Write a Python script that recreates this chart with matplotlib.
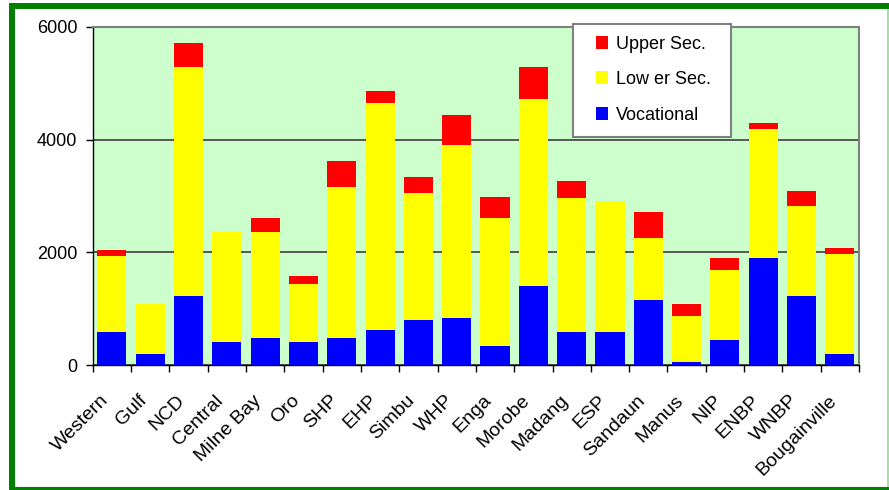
import matplotlib
matplotlib.use("Agg")
import matplotlib.pyplot as plt
from matplotlib.lines import Line2D
from matplotlib.patches import Rectangle
import numpy as np

plt.rcParams['font.family'] = ['Liberation Sans', 'DejaVu Sans']

provinces = ["Western", "Gulf", "NCD", "Central", "Milne Bay", "Oro", "SHP", "EHP",
             "Simbu", "WHP", "Enga", "Morobe", "Madang", "ESP", "Sandaun", "Manus",
             "NIP", "ENBP", "WNBP", "Bougainville"]
vocational = [584, 195, 1227, 407, 478, 407, 478, 619, 796, 832,
              336, 1398, 584, 584, 1150, 53, 442, 1894, 1221, 195]
lower_sec = [1345, 885, 4065, 1953, 1876, 1027, 2690, 4036, 2266, 3079,
             2266, 3328, 2372, 2336, 1098, 814, 1239, 2301, 1593, 1770]
upper_sec = [106, 0, 425, 0, 248, 141, 460, 212, 283, 531,
             389, 566, 318, 0, 460, 213, 213, 106, 283, 106]
y_ticks = [0, 2000, 4000, 6000]

fig = plt.figure(figsize=(8.89, 4.90), dpi=100)
ax = fig.add_axes([0.1043, 0.2551, 0.862, 0.6898])
ax.set_facecolor('#CCFFCC')

x = np.arange(len(provinces))
voc = np.array(vocational)
low = np.array(lower_sec)
upp = np.array(upper_sec)
w = 0.76
ax.bar(x, voc, w, color='#0000FF', label='Vocational', zorder=3)
ax.bar(x, low, w, bottom=voc, color='#FFFF00', label='Low er Sec.', zorder=3)
ax.bar(x, upp, w, bottom=voc + low, color='#FF0000', label='Upper Sec.', zorder=3)

ax.set_xlim(-0.5, len(provinces) - 0.5)
ax.set_ylim(0, 6000)
ax.set_yticks(y_ticks)
ax.set_yticklabels([str(v) for v in y_ticks], fontsize=13)
ax.yaxis.grid(True, color='#555555', linewidth=1.4, zorder=1)
ax.set_axisbelow(True)

# category boundaries get the tick marks, centres get the labels
ax.set_xticks(np.arange(-0.5, len(provinces), 1.0))
ax.set_xticklabels([])
ax.set_xticks(x, minor=True)
ax.set_xticklabels(provinces, minor=True, rotation=45, ha='right', va='bottom',
                   rotation_mode='anchor', fontsize=14)
ax.tick_params(axis='x', which='minor', length=0, pad=28)
ax.tick_params(axis='x', which='major', length=5, width=1, direction='out')
ax.tick_params(axis='y', length=5, width=1, direction='out', pad=6)

for s in ['top', 'right']:
    ax.spines[s].set_color('#808080')
    ax.spines[s].set_linewidth(1.5)
for s in ['left', 'bottom']:
    ax.spines[s].set_color('black')
    ax.spines[s].set_linewidth(1.0)

# legend: box drawn by hand so the padding can match
box = Rectangle((0.6268, 0.6746), 0.2062, 0.3343, transform=ax.transAxes,
                facecolor='white', edgecolor='#808080', linewidth=1.5,
                clip_on=False, zorder=5)
ax.add_patch(box)
handles, labels = ax.get_legend_handles_labels()
leg = ax.legend(handles[::-1], labels[::-1], loc='upper left',
                bbox_to_anchor=(0.657, 0.974), fontsize=13, frameon=False,
                handlelength=0.67, handleheight=0.72, handletextpad=0.45,
                labelspacing=1.02, borderpad=0, borderaxespad=0)
leg.set_zorder(6)

# green frame around the whole picture
def px(xp, yp):
    return xp / 889.0, 1 - yp / 490.0

for (x0, y0), (x1, y1), col, lw in [
        ((12, 3), (12, 489), '#008000', 4.3),
        ((9, 6.5), (889, 6.5), '#008000', 4.3),
        ((9, 488.5), (889, 488.5), '#008000', 3.0),
        ((887.5, 9), (887.5, 487), '#99D699', 1.2)]:
    a, b = px(x0, y0)
    c, d = px(x1, y1)
    fig.add_artist(Line2D([a, c], [b, d], color=col, linewidth=lw,
                          transform=fig.transFigure, solid_capstyle='butt'))

fig.savefig('out.png', dpi=100)
